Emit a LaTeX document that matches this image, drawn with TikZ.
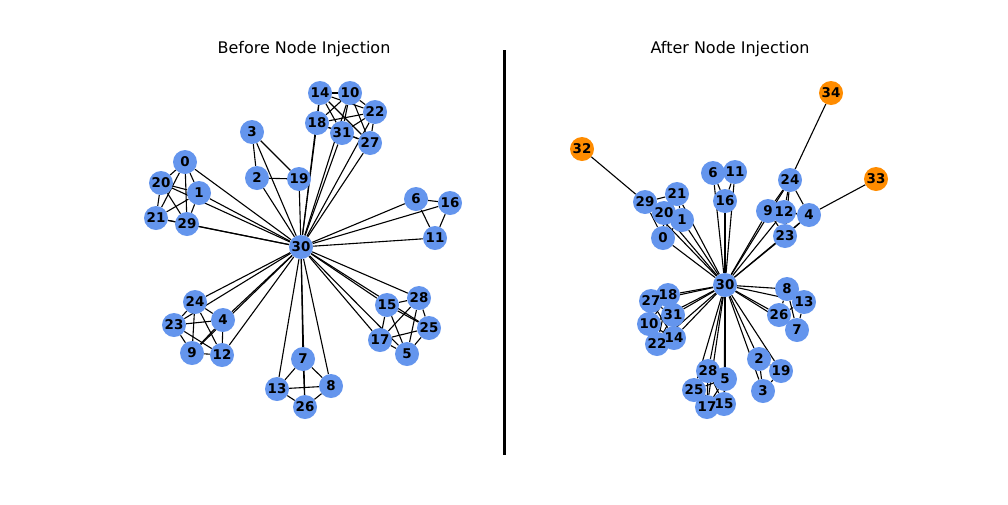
\documentclass[tikz,border=0pt]{standalone}
\usepackage{fontspec}
\setmainfont{DejaVu Sans}
\usetikzlibrary{backgrounds}
\definecolor{nodeblue}{HTML}{6495ED}
\definecolor{injected}{HTML}{FF8C00}
% clique edges: #1 = name prefix, #2 = list of members
\newcommand\cliqueedges[2]{%
  \foreach \a [count=\i] in {#2} {%
    \foreach \b [count=\j] in {#2} {%
      \ifnum\j>\i\relax \draw[edge] (#1\a) -- (#1\b);\fi}}}
\begin{document}
\begin{tikzpicture}[x=1pt,y=-1pt,
  vertex/.style={circle,fill=nodeblue,minimum size=24pt,inner sep=0pt},
  newvertex/.style={vertex,fill=injected},
  vlabel/.style={inner sep=0pt,font=\fontsize{13.4}{14}\selectfont\bfseries},
  edge/.style={line width=1.1pt,black},
  title/.style={font=\fontsize{16}{20}\selectfont}]
\useasboundingbox (0,0) rectangle (1008,504);

% titles and divider
\node[title] (tl) at (304,49) {Before Node Injection};
\node[title] (tr) at (730,49) {After Node Injection};
\coordinate (dtop) at (504,50);
\coordinate (dbot) at (504,455);
\draw[line width=3pt] (dtop) -- (dbot);

% ---- graph before injection ----
\foreach \n/\x/\y in {0/185/162, 20/161/183, 1/199/193, 21/156/218, 29/187/224,
  2/257/178, 19/299/179, 3/252/132,
  14/320/93, 10/350/93, 22/375/112, 18/317/123, 31/342/133, 27/370/143,
  6/416/199, 16/450/203, 11/435/238, 30/301/247,
  15/387/305, 28/419/298, 25/429/328, 17/380/340, 5/407/354,
  24/195/302, 23/174/325, 4/223/320, 9/192/353, 12/222/355,
  7/303/359, 13/277/389, 8/331/386, 26/305/407}
  \node[vertex] (L\n) at (\x,\y) {};

% ---- graph after injection ----
\foreach \n/\x/\y in {29/645/202, 21/677/194, 20/664/213, 1/682/220, 0/663/238,
  6/713/173, 11/735/172, 16/725/201,
  24/790/180, 9/768/211, 12/784/212, 4/809/215, 23/785/236,
  30/725/285,
  18/668/295, 27/651/301, 31/673/315, 10/649/324, 14/674/338, 22/657/344,
  8/787/289, 13/804/302, 26/779/315, 7/797/330,
  2/759/359, 19/781/371, 3/763/391,
  28/708/371, 5/725/379, 25/694/390, 17/707/407, 15/724/404}
  \node[vertex] (R\n) at (\x,\y) {};
\node[newvertex] (R32) at (582,149) {};
\node[newvertex] (R34) at (831,93) {};
\node[newvertex] (R33) at (876,179) {};

% labels go on top of every disc
\foreach \n in {0,...,31} {
  \node[vlabel] (Lt\n) at (L\n) {\n};
  \node[vlabel] (Rt\n) at (R\n) {\n};
}
\foreach \n in {32,33,34} \node[vlabel] (Rt\n) at (R\n) {\n};

% ---- edges ----
\begin{scope}[on background layer]
\foreach \p in {L,R} {
  \cliqueedges{\p}{0,1,20,21,29}
  \cliqueedges{\p}{2,3,19}
  \cliqueedges{\p}{10,14,18,22,27,31}
  \cliqueedges{\p}{6,11,16}
  \cliqueedges{\p}{5,15,17,25,28}
  \cliqueedges{\p}{7,8,13,26}
  \cliqueedges{\p}{4,9,12,23,24}
  \foreach \n in {0,...,29,31} \draw[edge] (\p30) -- (\p\n);
}
\draw[edge] (R29) -- (R32);
\draw[edge] (R24) -- (R34);
\draw[edge] (R4) -- (R33);
\end{scope}
\end{tikzpicture}
\end{document}
